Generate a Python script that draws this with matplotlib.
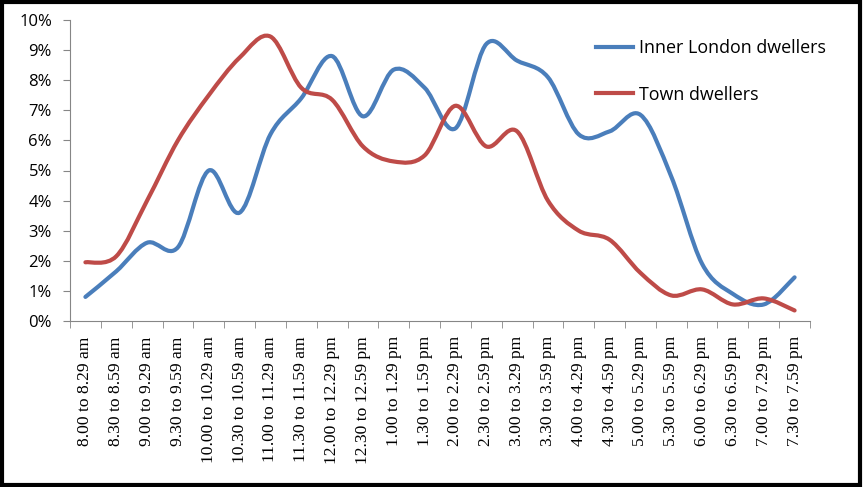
import matplotlib
matplotlib.use("Agg")
import matplotlib.pyplot as plt
import numpy as np
from matplotlib.path import Path
from matplotlib.patches import PathPatch, Rectangle
from matplotlib.lines import Line2D

categories = ["8.00 to 8.29 am", "8.30 to 8.59 am", "9.00 to 9.29 am", "9.30 to 9.59 am",
              "10.00 to 10.29 am", "10.30 to 10.59 am", "11.00 to 11.29 am", "11.30 to 11.59 am",
              "12.00 to 12.29 pm", "12.30 to 12.59 pm", "1.00 to 1.29 pm", "1.30 to 1.59 pm",
              "2.00 to 2.29 pm", "2.30 to 2.59 pm", "3.00 to 3.29 pm", "3.30 to 3.59 pm",
              "4.00 to 4.29 pm", "4.30 to 4.59 pm", "5.00 to 5.29 pm", "5.30 to 5.59 pm",
              "6.00 to 6.29 pm", "6.30 to 6.59 pm", "7.00 to 7.29 pm", "7.30 to 7.59 pm"]
inner_london = [0.8, 1.65, 2.6, 2.45, 5.0, 3.6, 6.2, 7.4, 8.8, 6.8, 8.35, 7.75,
                6.4, 9.2, 8.65, 8.1, 6.2, 6.3, 6.85, 4.8, 1.9, 0.9, 0.55, 1.45]
town = [1.95, 2.15, 4.0, 6.0, 7.5, 8.75, 9.45, 7.75, 7.35, 5.8, 5.3, 5.5,
        7.15, 5.8, 6.3, 4.0, 3.0, 2.7, 1.6, 0.85, 1.05, 0.55, 0.75, 0.35]
yticks = [0, 1, 2, 3, 4, 5, 6, 7, 8, 9, 10]

blue = "#4A7EBB"
red = "#BE4B48"

fig = plt.figure(figsize=(8.64, 4.87), dpi=100)
ax = fig.add_axes([70/864, 1-321/487, 740/864, 301/487])

def smooth_path(x, y):
    x = np.asarray(x, float); y = np.asarray(y, float)
    n = len(x)
    verts = [(x[0], y[0])]
    codes = [Path.MOVETO]
    for i in range(n-1):
        p0 = np.array([x[max(i-1, 0)], y[max(i-1, 0)]])
        p1 = np.array([x[i], y[i]])
        p2 = np.array([x[i+1], y[i+1]])
        p3 = np.array([x[min(i+2, n-1)], y[min(i+2, n-1)]])
        c1 = p1 + (p2 - p0) / 6.0
        c2 = p2 - (p3 - p1) / 6.0
        verts += [tuple(c1), tuple(c2), tuple(p2)]
        codes += [Path.CURVE4]*3
    return Path(verts, codes)

xs = np.arange(len(categories))
for vals, col in [(inner_london, blue), (town, red)]:
    ax.add_patch(PathPatch(smooth_path(xs, vals), facecolor="none", edgecolor=col,
                           lw=3.0, capstyle="round", joinstyle="round"))

ax.set_xlim(-0.5, len(categories)-0.5)
ax.set_ylim(0, 10)
ax.set_yticks(yticks)
ax.set_yticklabels([f"{v}%" for v in yticks], fontfamily="Open Sans", fontsize=12)
ax.set_xticks(xs)
ax.set_xticklabels(categories, rotation=90, fontfamily="Liberation Serif", fontsize=12.6)
ax.set_xticks(np.arange(-0.5, len(categories)), minor=True)
ax.tick_params(axis="x", which="major", length=0, pad=11)
ax.tick_params(axis="x", which="minor", length=5, color="#868686", direction="out")
ax.tick_params(axis="y", length=5, color="#868686", direction="out", pad=8)
for s in ["top", "right"]:
    ax.spines[s].set_visible(False)
for s in ["left", "bottom"]:
    ax.spines[s].set_color("#868686")

handles = [Line2D([], [], color=blue, lw=3), Line2D([], [], color=red, lw=3)]
fig.legend(handles, ["Inner London dwellers", "Town dwellers"], loc="upper left",
           bbox_to_anchor=(596/864, 1-39/487), frameon=False, handlelength=2.07,
           handletextpad=0.35, labelspacing=1.6, borderpad=0, borderaxespad=0,
           prop={"family": "Open Sans", "size": 12.9})

fig.patches.append(Rectangle((0.002, 0.004), 0.993, 0.992, transform=fig.transFigure,
                             fill=False, edgecolor="black", lw=3, zorder=10))
fig.savefig("out.png", dpi=100)
